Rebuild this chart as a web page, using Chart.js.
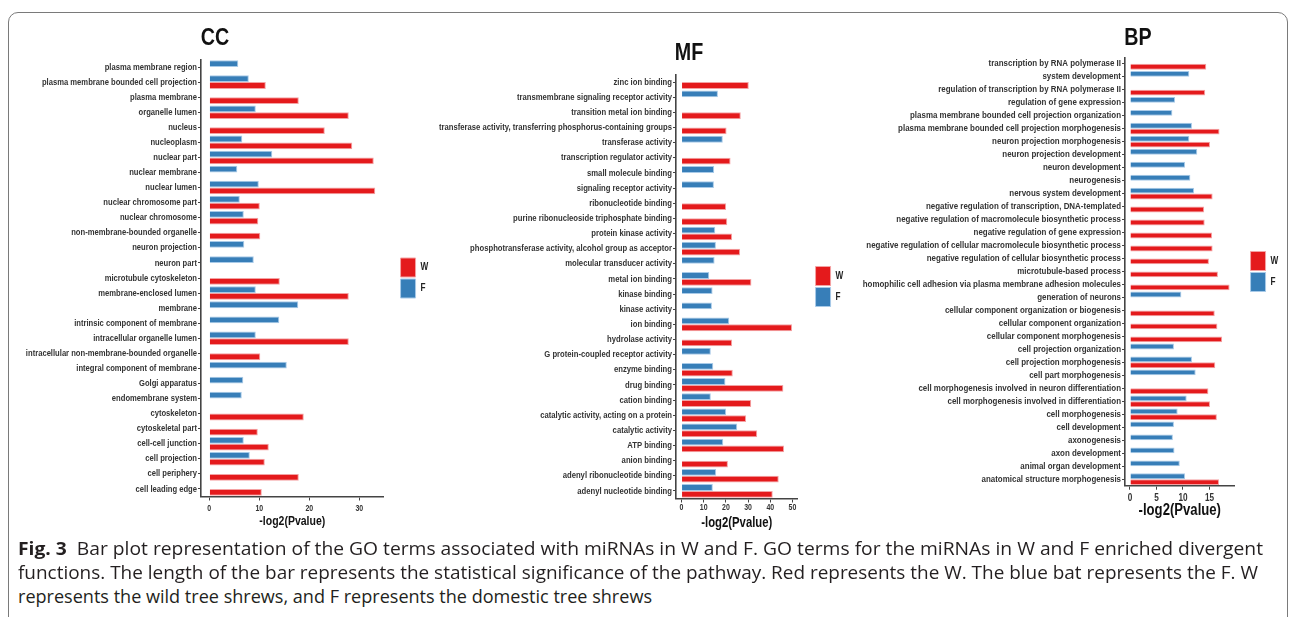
<!DOCTYPE html>
<html>
<head>
<meta charset="utf-8">
<script src="https://cdn.jsdelivr.net/npm/chart.js@4.4.1/dist/chart.umd.min.js"></script>
<style>
  html, body { margin: 0; padding: 0; background: #fff; }
  body { width: 1295px; height: 617px; position: relative; overflow: hidden; }
  .frame { position: absolute; left: 8px; top: 12px; width: 1280px; height: 700px;
           border: 1.5px solid #7a7a7a; border-radius: 10px; box-sizing: border-box; }
  canvas { position: absolute; top: 0; }
  .ptitle { position: absolute; font-family: 'Liberation Sans', Arial, sans-serif; font-weight: 700;
            font-size: 24px; line-height: 24px; color: #111; white-space: nowrap;
            transform: translate(-50%, -50%) scaleX(0.82); }
  .cap { position: absolute; left: 18px; white-space: nowrap; font-family: 'Open Sans', sans-serif;
         font-size: 17.5px; line-height: 24px; color: #231f20; transform-origin: 0 50%; }
  .cap b { font-weight: 700; }
</style>
</head>
<body>
<div class="frame"></div>
<canvas id="cc" width="450" height="540" style="left:-10px"></canvas>
<canvas id="mf" width="430" height="540" style="left:425px"></canvas>
<canvas id="bp" width="435" height="540" style="left:855px"></canvas>

<div class="ptitle" style="left:215px; top:37px">CC</div>
<div class="ptitle" style="left:688.5px; top:52px">MF</div>
<div class="ptitle" style="left:1137.5px; top:37px">BP</div>

<div class="cap" style="top:536px" data-w="1245"><b>Fig. 3</b>&nbsp; Bar plot representation of the GO terms associated with miRNAs in W and F. GO terms for the miRNAs in W and F enriched divergent</div>
<div class="cap" style="top:560px" data-w="1240">functions. The length of the bar represents the statistical significance of the pathway. Red represents the W. The blue bat represents the F. W</div>
<div class="cap" style="top:584px" data-w="634">represents the wild tree shrews, and F represents the domestic tree shrews</div>

<script>
// ---- Cellular component (CC) ----
const ccTerms = [
  'plasma membrane region', 'plasma membrane bounded cell projection', 'plasma membrane',
  'organelle lumen', 'nucleus', 'nucleoplasm', 'nuclear part', 'nuclear membrane', 'nuclear lumen',
  'nuclear chromosome part', 'nuclear chromosome', 'non-membrane-bounded organelle',
  'neuron projection', 'neuron part', 'microtubule cytoskeleton', 'membrane-enclosed lumen',
  'membrane', 'intrinsic component of membrane', 'intracellular organelle lumen',
  'intracellular non-membrane-bounded organelle', 'integral component of membrane',
  'Golgi apparatus', 'endomembrane system', 'cytoskeleton', 'cytoskeletal part',
  'cell-cell junction', 'cell projection', 'cell periphery', 'cell leading edge'
];
const ccW = [null, 11.3, 17.9, 27.9, 23.1, 28.6, 32.9, null, 33.2, 10.1, 9.8, 10.2, null, null, 14.1,
             27.9, null, null, 27.9, 10.2, null, null, null, 18.9, 9.7, 11.9, 11.1, 17.9, 10.5];
const ccF = [5.8, 7.9, null, 9.3, null, 6.6, 12.6, 5.6, 9.9, 6.1, 6.9, null, 7.0, 8.9, null,
             9.3, 17.8, 14.0, 9.3, null, 15.5, 6.8, 6.5, null, null, 6.9, 8.1, null, null];
const ccTicks = [0, 10, 20, 30];

// ---- Molecular function (MF) ----
const mfTerms = [
  'zinc ion binding', 'transmembrane signaling receptor activity', 'transition metal ion binding',
  'transferase activity, transferring phosphorus-containing groups', 'transferase activity',
  'transcription regulator activity', 'small molecule binding', 'signaling receptor activity',
  'ribonucleotide binding', 'purine ribonucleoside triphosphate binding', 'protein kinase activity',
  'phosphotransferase activity, alcohol group as acceptor', 'molecular transducer activity',
  'metal ion binding', 'kinase binding', 'kinase activity', 'ion binding', 'hydrolase activity',
  'G protein-coupled receptor activity', 'enzyme binding', 'drug binding', 'cation binding',
  'catalytic activity, acting on a protein', 'catalytic activity', 'ATP binding', 'anion binding',
  'adenyl ribonucleotide binding', 'adenyl nucleotide binding'
];
const mfW = [30.3, null, 26.7, 20.3, null, 22.1, null, null, 20.1, 20.6, 22.8, 26.4, null, 31.5,
             null, null, 49.8, 22.8, null, 23.1, 45.9, 31.4, 29.1, 34.1, 46.2, 20.9, 43.8, 41.1];
const mfF = [null, 16.4, null, null, 18.6, null, 14.7, 14.6, null, null, 15.2, 15.5, 14.9, 12.5,
             14.0, 13.7, 21.5, null, 13.2, 14.3, 19.8, 13.2, 20.1, 25.1, 18.8, null, 15.6, 14.1];
const mfTicks = [0, 10, 20, 30, 40, 50];

// ---- Biological process (BP) ----
const bpTerms = [
  'transcription by RNA polymerase II', 'system development',
  'regulation of transcription by RNA polymerase II', 'regulation of gene expression',
  'plasma membrane bounded cell projection organization',
  'plasma membrane bounded cell projection morphogenesis', 'neuron projection morphogenesis',
  'neuron projection development', 'neuron development', 'neurogenesis', 'nervous system development',
  'negative regulation of transcription, DNA-templated',
  'negative regulation of macromolecule biosynthetic process', 'negative regulation of gene expression',
  'negative regulation of cellular macromolecule biosynthetic process',
  'negative regulation of cellular biosynthetic process', 'microtubule-based process',
  'homophilic cell adhesion via plasma membrane adhesion molecules', 'generation of neurons',
  'cellular component organization or biogenesis', 'cellular component organization',
  'cellular component morphogenesis', 'cell projection organization', 'cell projection morphogenesis',
  'cell part morphogenesis', 'cell morphogenesis involved in neuron differentiation',
  'cell morphogenesis involved in differentiation', 'cell morphogenesis', 'cell development',
  'axonogenesis', 'axon development', 'animal organ development', 'anatomical structure morphogenesis'
];
const bpW = [14.4, null, 14.2, null, null, 16.9, 15.1, null, null, null, 15.6, 14.0, 14.1, 15.5, 15.6,
             14.9, 16.6, 18.8, null, 16.0, 16.5, 17.4, null, 16.1, null, 14.8, 15.1, 16.4, null, null,
             null, null, 16.8];
const bpF = [null, 11.2, null, 8.5, 8.0, 11.7, 11.2, 12.7, 10.4, 11.4, 12.1, null, null, null, null,
             null, null, null, 9.7, null, null, null, 8.3, 11.7, 12.4, null, 10.7, 9.0, 8.3, 8.1, 8.4,
             9.4, 10.4];
const bpTicks = [0, 5, 10, 15];

const SANS = "'Liberation Sans', Arial, sans-serif";
const RED = '#E41A1C', RED_EDGE = '#F4A2A3';
const BLUE = '#377EB8', BLUE_EDGE = '#A8CAE8';
const INK = '#333333', AXIS = '#444444';

// Narrow-face look: every string drawn on a panel is compressed horizontally
// (fillText's maxWidth squeezes the glyphs while keeping the text alignment).
function condense(canvas, k) {
  const ctx = canvas.getContext('2d');
  const fill = ctx.fillText;
  ctx.fillText = function (text, x, y, maxWidth) {
    const w = this.measureText(text).width * k;
    const mw = (typeof maxWidth === 'number' && isFinite(maxWidth)) ? Math.min(maxWidth, w) : w;
    return fill.call(this, text, x, y, mw);
  };
}

// value axis spans the data with a 5% margin on both sides
function expandedRange(a, b) {
  const m = Math.max(...a.concat(b).filter(v => v != null));
  return [-0.05 * m, 1.05 * m];
}

function panel(id, o) {
  const canvas = document.getElementById(id);
  condense(canvas, 0.82);
  const [lo, hi] = expandedRange(o.w, o.f);
  return new Chart(canvas, {
    type: 'bar',
    data: {
      labels: o.terms,
      datasets: [
        { label: 'F', data: o.f, backgroundColor: BLUE, borderColor: BLUE_EDGE, borderWidth: 1 },
        { label: 'W', data: o.w, backgroundColor: RED, borderColor: RED_EDGE, borderWidth: 1 }
      ]
    },
    options: {
      indexAxis: 'y',
      responsive: false,
      animation: false,
      events: [],
      datasets: { bar: { categoryPercentage: 0.9, barPercentage: 1 } },
      layout: { padding: { left: 0, right: 0, top: o.top, bottom: 0 } },
      plugins: {
        legend: {
          position: 'right', fullSize: false, reverse: true,
          labels: {
            boxWidth: 15, boxHeight: 19, padding: 2, color: '#222',
            font: { family: SANS, size: 10, weight: 'bold' }
          }
        },
        tooltip: { enabled: false }
      },
      scales: {
        y: {
          type: 'category',
          grid: { display: true, drawOnChartArea: false, offset: false, tickLength: 3, color: AXIS, lineWidth: 1 },
          border: { display: true, color: AXIS, width: 1.6 },
          ticks: { autoSkip: false, padding: 1, color: INK, font: { family: SANS, size: o.labelSize, weight: 'bold' } },
          afterFit(s) { s.width = o.yWidth; }
        },
        x: {
          type: 'linear', min: lo, max: hi,
          afterBuildTicks(s) { s.ticks = o.ticks.map(v => ({ value: v })); },
          grid: { display: true, drawOnChartArea: false, tickLength: 4, color: AXIS, lineWidth: 1 },
          border: { display: true, color: AXIS, width: 1.6 },
          ticks: { padding: o.tickPad, color: INK, font: { family: SANS, size: o.tickSize, weight: 'bold' } },
          title: {
            display: true, text: '-log2(Pvalue)', color: '#111',
            font: { family: SANS, size: o.axisTitleSize, weight: 'bold' },
            padding: { top: 0, bottom: o.axisTitleBottom }
          },
          afterFit(s) { s.height = o.xHeight; }
        },
        // blank strip separating the plot from its legend
        gap: {
          type: 'linear', position: 'right', display: true,
          grid: { display: false }, border: { display: false }, ticks: { display: false },
          afterFit(s) { s.width = o.gap; }
        }
      }
    }
  });
}

panel('cc', {
  terms: ccTerms, w: ccW, f: ccF, ticks: ccTicks,
  top: 59.5, yWidth: 211, gap: 15, labelSize: 9.3, tickSize: 8.5, tickPad: 3.5,
  xHeight: 43.5, axisTitleSize: 12.8, axisTitleBottom: 10.4
});
panel('mf', {
  terms: mfTerms, w: mfW, f: mfF, ticks: mfTicks,
  top: 74.5, yWidth: 251, gap: 16, labelSize: 9.4, tickSize: 8.5, tickPad: 0.4,
  xHeight: 41.5, axisTitleSize: 13.8, axisTitleBottom: 8.8
});
panel('bp', {
  terms: bpTerms, w: bpW, f: bpF, ticks: bpTicks,
  top: 57.3, yWidth: 270, gap: 14, labelSize: 9.7, tickSize: 10, tickPad: 2.6,
  xHeight: 54.3, axisTitleSize: 16, axisTitleBottom: 19.4
});

// fit each caption line to its column width
function fitCaption() {
  document.querySelectorAll('.cap').forEach(el => {
    el.style.transform = 'none';
    const w = el.getBoundingClientRect().width;
    el.style.transform = 'scaleX(' + (parseFloat(el.dataset.w) / w) + ')';
  });
}
fitCaption();
if (document.fonts && document.fonts.ready) document.fonts.ready.then(fitCaption);
</script>
</body>
</html>
